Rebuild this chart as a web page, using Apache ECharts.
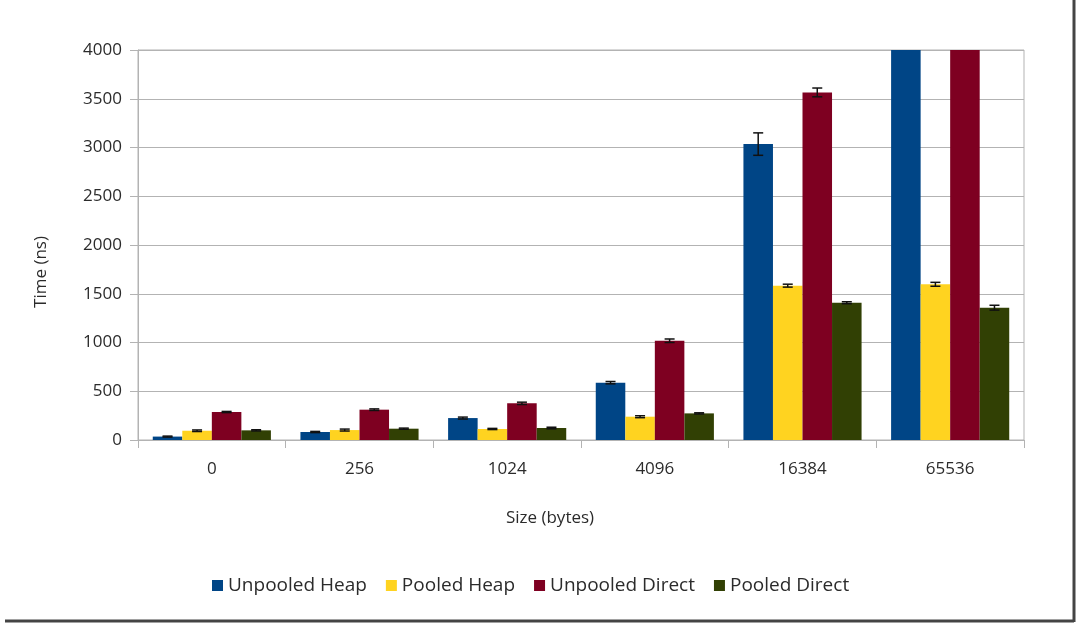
<!DOCTYPE html>
<html>
<head>
<meta charset="utf-8">
<script src="https://cdn.jsdelivr.net/npm/echarts@6/dist/echarts.min.js"></script>
<style>html,body{margin:0;padding:0;background:#fff;}#c{width:1080px;height:627px;}</style>
</head>
<body>
<div id="c"></div>
<script>
const categories = ['0', '256', '1024', '4096', '16384', '65536'];
const seriesNames = ['Unpooled Heap', 'Pooled Heap', 'Unpooled Direct', 'Pooled Direct'];
const unpooledHeap = [35, 82, 225, 588, 3035, 6000];
const pooledHeap = [95, 102, 113, 239, 1583, 1597];
const unpooledDirect = [287, 311, 376, 1018, 3565, 6000];
const pooledDirect = [99, 116, 123, 273, 1408, 1357];
const unpooledHeapErr = [5, 6, 10, 12, 115, 0];
const pooledHeapErr = [8, 10, 6, 10, 15, 20];
const unpooledDirectErr = [6, 8, 12, 18, 45, 0];
const pooledDirectErr = [6, 6, 8, 6, 10, 25];
const yTicks = [0, 500, 1000, 1500, 2000, 2500, 3000, 3500, 4000];

const colors = ['#004586', '#ffd320', '#7e0021', '#314004'];
const values = [unpooledHeap, pooledHeap, unpooledDirect, pooledDirect];
const errs = [unpooledHeapErr, pooledHeapErr, unpooledDirectErr, pooledDirectErr];
const FONT = 'Open Sans';
const catGap = 0.2;

const chart = echarts.init(document.getElementById('c'));

const barSeries = values.map((v, i) => ({
  name: seriesNames[i],
  type: 'bar',
  data: v,
  barGap: '0%',
  barCategoryGap: (catGap * 100) + '%',
  itemStyle: { color: colors[i] },
  clip: true,
  z: 2
}));

const errSeries = values.map((v, s) => ({
  type: 'custom',
  name: 'err' + s,
  data: v.map((val, k) => [k, val - errs[s][k], val + errs[s][k], errs[s][k]]),
  clip: true,
  z: 5,
  silent: true,
  encode: { x: 0, y: [1, 2] },
  renderItem: function (params, api) {
    if (api.value(3) <= 0) return null;
    const band = api.size([1, 0])[0];
    const bw = band * (1 - catGap) / 4;
    const off = (s - 1.5) * bw;
    const lo = api.coord([api.value(0), api.value(1)]);
    const hi = api.coord([api.value(0), api.value(2)]);
    const x = lo[0] + off;
    const hw = 5;
    const st = { stroke: '#111', lineWidth: 1.5 };
    return {
      type: 'group',
      children: [
        { type: 'line', shape: { x1: x, y1: lo[1], x2: x, y2: hi[1] }, style: st },
        { type: 'line', shape: { x1: x - hw, y1: lo[1], x2: x + hw, y2: lo[1] }, style: st },
        { type: 'line', shape: { x1: x - hw, y1: hi[1], x2: x + hw, y2: hi[1] }, style: st }
      ]
    };
  }
}));

chart.setOption({
  backgroundColor: '#fff',
  animation: false,
  textStyle: { fontFamily: FONT },
  grid: {
    left: 138, right: 56, top: 50, bottom: 187,
    show: true, borderColor: '#b3b3b3', borderWidth: 1, backgroundColor: 'transparent'
  },
  legend: {
    data: seriesNames,
    left: 207, top: 571,
    icon: 'rect', itemWidth: 11, itemHeight: 11, itemGap: 19,
    textStyle: { fontFamily: FONT, fontSize: 19, color: '#2b2b2b' }
  },
  xAxis: {
    type: 'category',
    data: categories,
    name: 'Size (bytes)',
    nameLocation: 'middle',
    nameGap: 70,
    nameTextStyle: { fontFamily: FONT, fontSize: 17, color: '#2b2b2b', padding: [0, 62, 0, 0] },
    axisLine: { lineStyle: { color: '#b3b3b3', width: 1 } },
    axisTick: { show: true, length: 8, lineStyle: { color: '#b3b3b3' } },
    axisLabel: { fontFamily: FONT, fontSize: 17, color: '#2b2b2b', margin: 21 },
    splitLine: { show: false }
  },
  yAxis: {
    type: 'value',
    min: yTicks[0], max: yTicks[yTicks.length - 1], interval: 500,
    name: 'Time (ns)',
    nameLocation: 'middle',
    nameGap: 88,
    nameRotate: 90,
    nameTextStyle: { fontFamily: FONT, fontSize: 17, color: '#2b2b2b', padding: [0, 54, 0, 0] },
    axisLine: { show: true, lineStyle: { color: '#b3b3b3', width: 1 } },
    axisTick: { show: true, length: 8, lineStyle: { color: '#b3b3b3' } },
    axisLabel: { fontFamily: FONT, fontSize: 17, color: '#2b2b2b', margin: 16, formatter: function (v) { return String(v); } },
    splitLine: { show: true, lineStyle: { color: '#b3b3b3', width: 1 } }
  },
  graphic: [
    { type: 'line', shape: { x1: 1074, y1: 0, x2: 1074, y2: 622 }, style: { stroke: '#444', lineWidth: 3 }, z: 100 },
    { type: 'line', shape: { x1: 5, y1: 621, x2: 1074, y2: 621 }, style: { stroke: '#444', lineWidth: 3 }, z: 100 }
  ],
  series: barSeries.concat(errSeries)
});
</script>
</body>
</html>
